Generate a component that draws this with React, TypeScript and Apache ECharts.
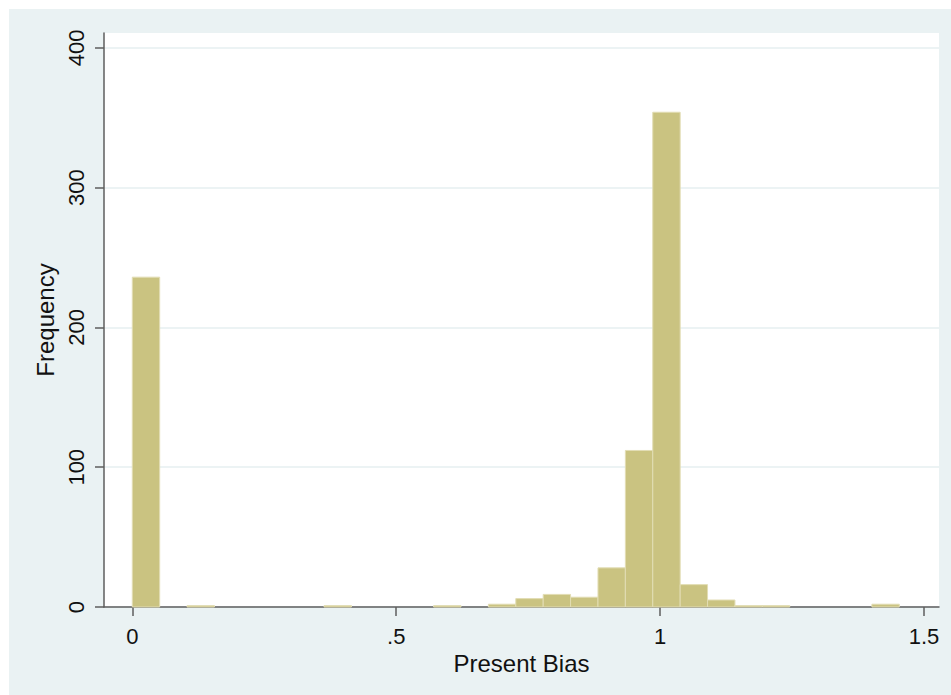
import React, { useEffect, useRef } from "react";
import * as echarts from "echarts";

// Histogram bins (Stata default: 29 bins starting at 0)
const binStart = 0;
const binWidth = 0.0519;
const binCounts = [
  236, 0, 1, 0, 0, 0, 0, 1, 0, 0, 0, 1, 0, 2, 6, 9, 7, 28, 112, 354, 16, 5, 1, 1, 0, 0, 0, 2, 0,
];
const xTickValues = [0, 0.5, 1, 1.5];
const xTickLabels = ["0", ".5", "1", "1.5"];
const yTickValues = [0, 100, 200, 300, 400];
const xTitle = "Present Bias";
const yTitle = "Frequency";

const FONT = "'Liberation Sans', Arial, sans-serif";

export default function App() {
  const ref = useRef<HTMLDivElement>(null);

  useEffect(() => {
    if (!ref.current) return;
    const chart = echarts.init(ref.current, undefined, { renderer: "svg" });
    const data = binCounts
      .map((c, i) => [binStart + i * binWidth, binStart + (i + 1) * binWidth, c])
      .filter((d) => d[2] > 0);

    chart.setOption({
      animation: false,
      backgroundColor: "#eaf2f3",
      textStyle: { fontFamily: FONT },
      grid: { left: 95, top: 24, right: 12, bottom: 88, backgroundColor: "#ffffff", show: true, borderWidth: 0 },
      xAxis: {
        type: "value",
        min: -0.0536,
        max: 1.5284,
        name: xTitle,
        nameLocation: "middle",
        nameGap: 37,
        nameTextStyle: { fontSize: 24, color: "#111", fontFamily: FONT },
        axisLine: { show: true, onZero: false, lineStyle: { color: "#5e5e5e", width: 1.5 } },
        axisTick: { show: true, length: 9, customValues: xTickValues, lineStyle: { color: "#5e5e5e", width: 1.5 } },
        axisLabel: {
          customValues: xTickValues,
          formatter: (v: number) => {
            const i = xTickValues.findIndex((t) => Math.abs(t - v) < 1e-9);
            return i >= 0 ? xTickLabels[i] : "";
          },
          fontSize: 22,
          color: "#111",
          margin: 18,
          fontFamily: FONT,
        },
        splitLine: { show: false },
      },
      yAxis: {
        type: "value",
        min: 0,
        max: 410.7,
        name: yTitle,
        nameLocation: "middle",
        nameGap: 37,
        nameTextStyle: { fontSize: 24, color: "#111", fontFamily: FONT },
        axisLine: { show: true, onZero: false, lineStyle: { color: "#5e5e5e", width: 1.5 } },
        axisTick: { show: true, length: 9, customValues: yTickValues, lineStyle: { color: "#5e5e5e", width: 1.5 } },
        axisLabel: {
          customValues: yTickValues,
          rotate: 90,
          fontSize: 22,
          color: "#111",
          margin: 17,
          fontFamily: FONT,
        },
        splitLine: { show: true, lineStyle: { color: "#e6eff1", width: 1.5 } },
      },
      series: [
        {
          type: "custom",
          encode: { x: [0, 1], y: 2 },
          data,
          renderItem: (params: any, api: any) => {
            const x0 = api.value(0);
            const x1 = api.value(1);
            const c = api.value(2);
            const p0 = api.coord([x0, c]);
            const p1 = api.coord([x1, 0]);
            return {
              type: "rect",
              shape: { x: p0[0], y: p0[1], width: p1[0] - p0[0], height: p1[1] - p0[1] },
              style: { fill: "#cac381", stroke: "#e2ddb4", lineWidth: 1 },
            };
          },
        },
      ],
    });
    return () => chart.dispose();
  }, []);

  return (
    <div style={{ position: "absolute", left: 0, top: 0, width: 951, height: 695, background: "#ffffff" }}>
      <div
        ref={ref}
        style={{ position: "absolute", left: 9, top: 9, width: 942, height: 686 }}
      />
    </div>
  );
}
